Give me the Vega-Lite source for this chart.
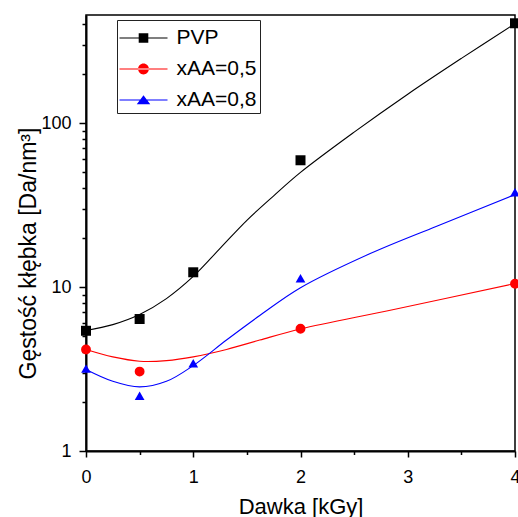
{
  "$schema": "https://vega.github.io/schema/vega-lite/v6.json",
  "width": 429,
  "height": 436,
  "autosize": "none",
  "padding": {"left": 86, "top": 15, "right": 3, "bottom": 66},
  "background": "white",
  "config": {
    "font": "Liberation Sans",
    "view": {"stroke": "black", "strokeWidth": 1.5},
    "axis": {
      "grid": false,
      "domainColor": "black",
      "domainWidth": 2,
      "tickColor": "black",
      "tickWidth": 1.5,
      "labelColor": "black",
      "labelFont": "Liberation Sans",
      "labelFontSize": 18,
      "titleFont": "Liberation Sans",
      "titleFontWeight": "normal",
      "titleColor": "black",
      "labelOverlap": false,
      "labelFlush": false
    }
  },
  "datasets": {
    "points": [
      {"dose": 0, "density": 5.41, "series": "PVP"},
      {"dose": 0.5, "density": 6.38, "series": "PVP"},
      {"dose": 1, "density": 12.3, "series": "PVP"},
      {"dose": 2, "density": 59.3, "series": "PVP"},
      {"dose": 4, "density": 406, "series": "PVP"},
      {"dose": 0, "density": 4.16, "series": "xAA=0,5"},
      {"dose": 0.5, "density": 3.05, "series": "xAA=0,5"},
      {"dose": 2, "density": 5.57, "series": "xAA=0,5"},
      {"dose": 4, "density": 10.47, "series": "xAA=0,5"},
      {"dose": 0, "density": 3.18, "series": "xAA=0,8"},
      {"dose": 0.5, "density": 2.17, "series": "xAA=0,8"},
      {"dose": 1, "density": 3.43, "series": "xAA=0,8"},
      {"dose": 2, "density": 11.3, "series": "xAA=0,8"},
      {"dose": 4, "density": 37.8, "series": "xAA=0,8"}
    ],
    "curves": [
      {"dose": 0, "density": 5.43, "series": "PVP"},
      {"dose": 0.25, "density": 5.9, "series": "PVP"},
      {"dose": 0.5, "density": 6.8, "series": "PVP"},
      {"dose": 0.75, "density": 8.5, "series": "PVP"},
      {"dose": 1.0, "density": 11.6, "series": "PVP"},
      {"dose": 1.25, "density": 17.2, "series": "PVP"},
      {"dose": 1.5, "density": 25.5, "series": "PVP"},
      {"dose": 1.75, "density": 36, "series": "PVP"},
      {"dose": 2.0, "density": 50, "series": "PVP"},
      {"dose": 2.5, "density": 88, "series": "PVP"},
      {"dose": 3.0, "density": 150, "series": "PVP"},
      {"dose": 3.5, "density": 248, "series": "PVP"},
      {"dose": 4.0, "density": 404, "series": "PVP"},
      {"dose": 0, "density": 4.16, "series": "xAA=0,5"},
      {"dose": 0.25, "density": 3.75, "series": "xAA=0,5"},
      {"dose": 0.5, "density": 3.53, "series": "xAA=0,5"},
      {"dose": 0.75, "density": 3.56, "series": "xAA=0,5"},
      {"dose": 1.0, "density": 3.75, "series": "xAA=0,5"},
      {"dose": 1.31, "density": 4.16, "series": "xAA=0,5"},
      {"dose": 1.62, "density": 4.75, "series": "xAA=0,5"},
      {"dose": 2.0, "density": 5.55, "series": "xAA=0,5"},
      {"dose": 2.87, "density": 7.29, "series": "xAA=0,5"},
      {"dose": 4.0, "density": 10.5, "series": "xAA=0,5"},
      {"dose": 0, "density": 3.14, "series": "xAA=0,8"},
      {"dose": 0.25, "density": 2.66, "series": "xAA=0,8"},
      {"dose": 0.5, "density": 2.46, "series": "xAA=0,8"},
      {"dose": 0.75, "density": 2.66, "series": "xAA=0,8"},
      {"dose": 1.0, "density": 3.32, "series": "xAA=0,8"},
      {"dose": 1.31, "density": 4.75, "series": "xAA=0,8"},
      {"dose": 1.62, "density": 6.7, "series": "xAA=0,8"},
      {"dose": 2.0, "density": 9.9, "series": "xAA=0,8"},
      {"dose": 2.65, "density": 16.0, "series": "xAA=0,8"},
      {"dose": 3.27, "density": 23.5, "series": "xAA=0,8"},
      {"dose": 4.0, "density": 36.6, "series": "xAA=0,8"}
    ]
  },
  "resolve": {
    "axis": {"x": "independent", "y": "independent"},
    "scale": {"shape": "independent", "color": "independent"}
  },
  "layer": [
    {
      "data": {"name": "curves"},
      "mark": {"type": "line", "interpolate": "catmull-rom", "strokeWidth": 1.1},
      "encoding": {
        "x": {
          "field": "dose",
          "type": "quantitative",
          "scale": {"domain": [0, 4], "nice": false, "zero": false},
          "axis": {
            "orient": "bottom",
            "values": [0, 1, 2, 3, 4],
            "tickSize": 6,
            "labelPadding": 11,
            "title": "Dawka [kGy]",
            "titleFontSize": 22,
            "titlePadding": 10
          }
        },
        "y": {
          "field": "density",
          "type": "quantitative",
          "scale": {"type": "log", "domain": [1, 456], "nice": false},
          "axis": {
            "orient": "left",
            "values": [1, 10, 100],
            "tickSize": 7,
            "labelPadding": 8,
            "title": "Gęstość kłębka [Da/nm³]",
            "titleFontSize": 23,
            "titleX": -46,
            "titleY": 238,
            "titleBaseline": "bottom",
            "titleAngle": -90,
            "titleAlign": "center"
          }
        },
        "color": {
          "field": "series",
          "type": "nominal",
          "scale": {"domain": ["PVP", "xAA=0,5", "xAA=0,8"], "range": ["#000000", "#ff0000", "#0000ff"]},
          "legend": null
        }
      }
    },
    {
      "data": {"name": "points"},
      "mark": {"type": "point", "filled": true, "opacity": 1},
      "encoding": {
        "x": {"field": "dose", "type": "quantitative", "axis": null},
        "y": {"field": "density", "type": "quantitative", "axis": null},
        "color": {
          "field": "series",
          "type": "nominal",
          "scale": {"domain": ["PVP", "xAA=0,5", "xAA=0,8"], "range": ["#000000", "#ff0000", "#0000ff"]},
          "legend": null
        },
        "shape": {
          "field": "series",
          "type": "nominal",
          "scale": {"domain": ["PVP", "xAA=0,5", "xAA=0,8"], "range": ["square", "circle", "triangle-up"]},
          "legend": null
        },
        "size": {
          "field": "series",
          "type": "nominal",
          "scale": {"domain": ["PVP", "xAA=0,5", "xAA=0,8"], "range": [100, 95, 155]},
          "legend": null
        }
      }
    },
    {
      "data": {"name": "points"},
      "transform": [{"filter": "datum.dose < 0"}],
      "mark": {"type": "point", "filled": true, "opacity": 1},
      "encoding": {
        "x": {
          "field": "dose",
          "type": "quantitative",
          "axis": {
            "orient": "bottom",
            "values": [0.5, 1.5, 2.5, 3.5],
            "tickSize": 3.5,
            "labels": false,
            "domain": false,
            "title": null
          }
        },
        "y": {
          "field": "density",
          "type": "quantitative",
          "axis": {
            "orient": "left",
            "values": [2, 3, 4, 5, 6, 7, 8, 9, 20, 30, 40, 50, 60, 70, 80, 90, 200, 300, 400],
            "tickSize": 4,
            "labels": false,
            "domain": false,
            "title": null
          }
        },
        "color": {
          "field": "series",
          "type": "nominal",
          "scale": {"domain": ["PVP", "xAA=0,5", "xAA=0,8"], "range": ["#000000", "#ff0000", "#0000ff"]},
          "legend": {
            "title": null,
            "orient": "none",
            "legendX": 31,
            "legendY": 5,
            "padding": 3,
            "strokeColor": "#222222",
            "fillColor": "white",
            "labelFont": "Liberation Sans",
            "labelFontSize": 21,
            "labelColor": "black",
            "labelLimit": 300,
            "symbolSize": 900,
            "symbolStrokeWidth": 0,
            "symbolOffset": 8.5,
            "labelOffset": 18,
            "rowPadding": 6
          }
        },
        "shape": {
          "field": "series",
          "type": "nominal",
          "scale": {
            "domain": ["PVP", "xAA=0,5", "xAA=0,8"],
            "range": [
              "M-1.6,-0.035H1.6V0.035H-1.6ZM-0.32,-0.32H0.32V0.32H-0.32Z",
              "M-1.6,-0.035H1.6V0.035H-1.6ZM-0.36,0A0.36,0.36,0,1,0,0.36,0A0.36,0.36,0,1,0,-0.36,0Z",
              "M-1.6,-0.035H1.6V0.035H-1.6ZM0,-0.32L0.45,0.28H-0.45Z"
            ]
          },
          "legend": {
            "title": null,
            "orient": "none",
            "legendX": 31,
            "legendY": 5,
            "padding": 3,
            "strokeColor": "#222222",
            "fillColor": "white",
            "labelFont": "Liberation Sans",
            "labelFontSize": 21,
            "labelColor": "black",
            "labelLimit": 300,
            "symbolSize": 900,
            "symbolStrokeWidth": 0,
            "symbolOffset": 8.5,
            "labelOffset": 18,
            "rowPadding": 6
          }
        }
      }
    }
  ]
}
